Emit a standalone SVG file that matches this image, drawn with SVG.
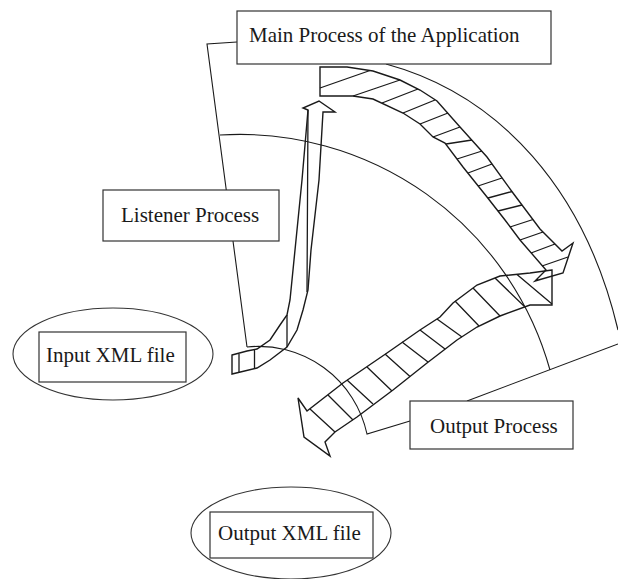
<svg xmlns="http://www.w3.org/2000/svg" width="618" height="579" viewBox="0 0 618 579">
<style>
.ln{fill:none;stroke:#1a1a1a;stroke-width:1.1}
.ar{fill:none;stroke:#1a1a1a;stroke-width:1.4;stroke-linejoin:miter}
.ht{stroke:#1a1a1a;stroke-width:1.3}
.bx{fill:#fff;stroke:#333;stroke-width:1.2}
.el{fill:none;stroke:#333;stroke-width:1.1}
.tx{font-family:"Liberation Serif","Times New Roman",serif;font-size:21px;fill:#1a1a1a}
</style>
<rect width="618" height="579" fill="#fff"/>
<g id="connectors">
<polyline class="ln" points="237,42 207,44 247,347"/>
<path class="ln" d="M247 347 A111 111 0 0 1 367 434 L410 421"/>
<path class="ln" d="M220 135 A322 322 0 0 1 550 370"/>
<line class="ln" x1="467" y1="401" x2="618" y2="344"/>
<path class="ln" d="M386 64 C500 95 585 190 618 330"/>
<g id="arrow-main-to-output">
<path class="ar" d="M320 67 L347 67 L373 71 L400 80 L420 90 L437 101 L460 127 L487 157 L513 193 L540 229 L562 251 L573 243 L563 273 L535 281 L546 270 L520 240 L505 220 L487 197 L463 167 L445 143 L433 137 L420 124 L403 113 L373 99 L353 96 L320 96 Z"/>
<path class="ht" d="M320 88L370 70.5M353 96L400 80M382 103L418 89M403 113L435 100M420 124L448 113M433 137L460 127M446 144L472 140M457 159L482 151M468 173L492 164M478 186L502 178M488 198L512 191.5M498 211L522 205M510 227L533 219.5M520 240L543 232M531 253L555 244M542 266L568 257"/>
</g>
<g id="arrow-listener-to-main">
<path class="ar" d="M232 355 L247 351 L257 349 L270 340 L280 325 L287 315 L290 300 L295 250 L302 180 L308 110 L303 108 L319 101 L335 112 L323 112 L319 180 L311 250 L308 290 L303 310 L297 330 L287 347 L270 360 L257 368 L232 374 Z"/>
<path class="ht" d="M308 110L307 292M287 315L287 347M239 354L239 372M254.5 350L254.5 368"/>
</g>
<g id="arrow-output">
<path class="ar" d="M552 270 L530 273 L500 276 L477 285 L453 303 L440 317 L420 330 L387 353 L343 383 L307 411 L298 398 L304 437 L330 456 L325 442 L335 432 L357 417 L393 390 L427 363 L457 340 L477 327 L500 316 L530 305 L552 305 Z"/>
<path class="ht" d="M310 409L335 432M328 395L353 420M347 380L373 404M367 367L392 391M385 354L410 376.5M402 342L428 362M420 330L445 349M437 319L462 337M455 301L479 326M473 288L500 316M495 278L525 307M517 274.5L552 304"/>
</g>
</g>
<g id="main-process">
<rect class="bx" x="237" y="11" width="314" height="53"/>
<text class="tx" x="249" y="42">Main Process of the Application</text>
</g>
<g id="listener-process">
<rect class="bx" x="103" y="190" width="176" height="51"/>
<text class="tx" x="121" y="222">Listener Process</text>
</g>
<g id="input-xml">
<ellipse class="el" cx="113" cy="354" rx="100" ry="46"/>
<rect class="bx" x="39" y="332" width="147" height="50"/>
<text class="tx" x="46" y="362">Input XML file</text>
</g>
<g id="output-process">
<rect class="bx" x="410" y="401" width="163" height="48"/>
<text class="tx" x="430" y="433">Output Process</text>
</g>
<g id="output-xml">
<ellipse class="el" cx="291" cy="533" rx="100" ry="46"/>
<rect class="bx" x="210" y="512" width="163" height="46"/>
<text class="tx" x="218" y="540">Output XML file</text>
</g>
</svg>
